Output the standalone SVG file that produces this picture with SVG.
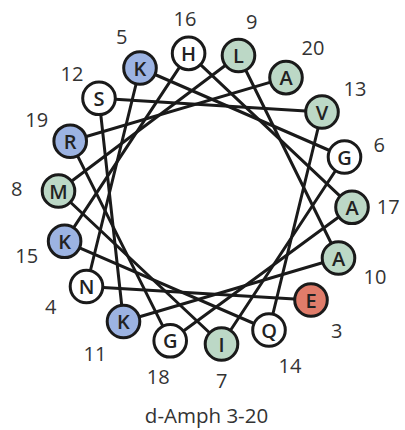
<svg xmlns="http://www.w3.org/2000/svg" width="405" height="430" viewBox="0 0 405 430">
<style>
.ln{stroke:#1a1a1a;stroke-width:3;fill:none;stroke-linecap:round}
.res circle{stroke:#1a1a1a;stroke-width:3}
.w{fill:#ffffff}.g{fill:#bcd8c6}.b{fill:#9cb3e2}.r{fill:#e07c6a}
.res text{font-family:"Open Sans","Liberation Sans",sans-serif;font-weight:600;font-size:20px;fill:#222;text-anchor:middle;dominant-baseline:central}
.num{font-family:"Open Sans","Liberation Sans",sans-serif;font-size:20px;fill:#333;text-anchor:middle;dominant-baseline:central}
.title{font-family:"Open Sans","Liberation Sans",sans-serif;font-size:20.5px;fill:#333;text-anchor:middle}
</style>
<rect width="405" height="430" fill="#ffffff"/>
<g id="connectors">
<line class="ln" x1="311" y1="300" x2="86.5" y2="286.5"/>
<line class="ln" x1="86.5" y1="286.5" x2="140" y2="68"/>
<line class="ln" x1="140" y1="68" x2="344.5" y2="157"/>
<line class="ln" x1="344.5" y1="157" x2="221.5" y2="344"/>
<line class="ln" x1="221.5" y1="344" x2="58.5" y2="191"/>
<line class="ln" x1="58.5" y1="191" x2="238.5" y2="55.5"/>
<line class="ln" x1="238.5" y1="55.5" x2="338.5" y2="258"/>
<line class="ln" x1="338.5" y1="258" x2="123.5" y2="321.5"/>
<line class="ln" x1="123.5" y1="321.5" x2="99" y2="98.3"/>
<line class="ln" x1="99" y1="98.3" x2="322" y2="112"/>
<line class="ln" x1="322" y1="112" x2="269" y2="330"/>
<line class="ln" x1="269" y1="330" x2="64.6" y2="241.3"/>
<line class="ln" x1="64.6" y1="241.3" x2="188.6" y2="53.4"/>
<line class="ln" x1="188.6" y1="53.4" x2="352" y2="207.3"/>
<line class="ln" x1="352" y1="207.3" x2="170.2" y2="340.8"/>
<line class="ln" x1="170.2" y1="340.8" x2="70.2" y2="141.2"/>
<line class="ln" x1="70.2" y1="141.2" x2="286" y2="77.6"/>
</g>
<g id="H16" class="res"><circle class="w" cx="188.6" cy="53.4" r="16.3"/><text x="188.6" y="53.4">H</text></g>
<g id="L9" class="res"><circle class="g" cx="238.5" cy="55.5" r="16.3"/><text x="238.5" y="55.5">L</text></g>
<g id="A20" class="res"><circle class="g" cx="286" cy="77.6" r="16.3"/><text x="286" y="77.6">A</text></g>
<g id="V13" class="res"><circle class="g" cx="322" cy="112" r="16.3"/><text x="322" y="112">V</text></g>
<g id="G6" class="res"><circle class="w" cx="344.5" cy="157" r="16.3"/><text x="344.5" y="157">G</text></g>
<g id="A17" class="res"><circle class="g" cx="352" cy="207.3" r="16.3"/><text x="352" y="207.3">A</text></g>
<g id="A10" class="res"><circle class="g" cx="338.5" cy="258" r="16.3"/><text x="338.5" y="258">A</text></g>
<g id="E3" class="res"><circle class="r" cx="311" cy="300" r="16.3"/><text x="311" y="300">E</text></g>
<g id="Q14" class="res"><circle class="w" cx="269" cy="330" r="16.3"/><text x="269" y="330">Q</text></g>
<g id="I7" class="res"><circle class="g" cx="221.5" cy="344" r="16.3"/><text x="221.5" y="344">I</text></g>
<g id="G18" class="res"><circle class="w" cx="170.2" cy="340.8" r="16.3"/><text x="170.2" y="340.8">G</text></g>
<g id="K11" class="res"><circle class="b" cx="123.5" cy="321.5" r="16.3"/><text x="123.5" y="321.5">K</text></g>
<g id="N4" class="res"><circle class="w" cx="86.5" cy="286.5" r="16.3"/><text x="86.5" y="286.5">N</text></g>
<g id="K15" class="res"><circle class="b" cx="64.6" cy="241.3" r="16.3"/><text x="64.6" y="241.3">K</text></g>
<g id="M8" class="res"><circle class="g" cx="58.5" cy="191" r="16.3"/><text x="58.5" y="191">M</text></g>
<g id="R19" class="res"><circle class="b" cx="70.2" cy="141.2" r="16.3"/><text x="70.2" y="141.2">R</text></g>
<g id="S12" class="res"><circle class="w" cx="99" cy="98.3" r="16.3"/><text x="99" y="98.3">S</text></g>
<g id="K5" class="res"><circle class="b" cx="140" cy="68" r="16.3"/><text x="140" y="68">K</text></g>
<g id="numbers">
<text class="num" x="185" y="18">16</text>
<text class="num" x="251.7" y="21.7">9</text>
<text class="num" x="121.7" y="36.7">5</text>
<text class="num" x="313" y="47">20</text>
<text class="num" x="355" y="88">13</text>
<text class="num" x="379.3" y="144">6</text>
<text class="num" x="388.3" y="206">17</text>
<text class="num" x="375" y="276.7">10</text>
<text class="num" x="336.7" y="330">3</text>
<text class="num" x="290" y="365">14</text>
<text class="num" x="221.7" y="380">7</text>
<text class="num" x="158.3" y="376.7">18</text>
<text class="num" x="95" y="353">11</text>
<text class="num" x="50.7" y="306.7">4</text>
<text class="num" x="26.7" y="255">15</text>
<text class="num" x="16.7" y="188.3">8</text>
<text class="num" x="36.7" y="119.3">19</text>
<text class="num" x="72" y="73">12</text>
</g>
<text class="title" x="206.5" y="423">d-Amph 3-20</text>
</svg>
